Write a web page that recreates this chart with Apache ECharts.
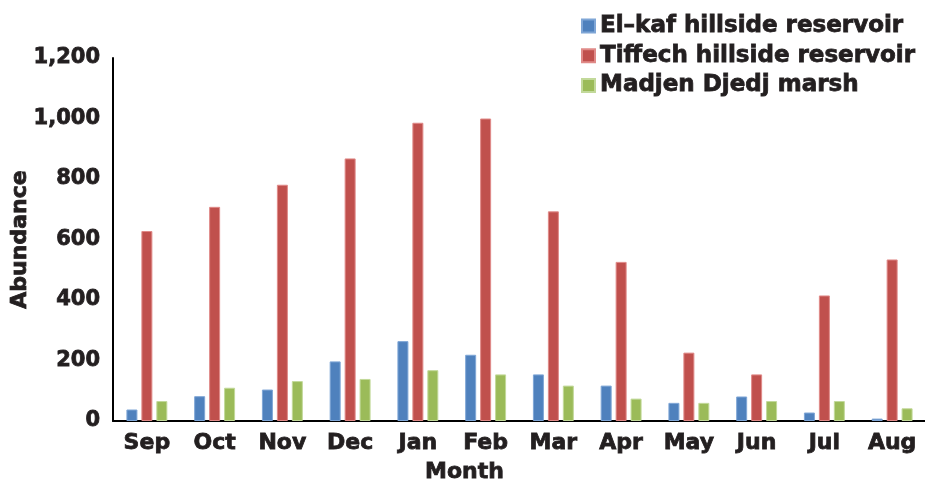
<!DOCTYPE html>
<html>
<head>
<meta charset="utf-8">
<script src="https://cdn.jsdelivr.net/npm/echarts@6/dist/echarts.min.js"></script>
<style>
  html, body { margin: 0; padding: 0; background: #fff; }
  #chart { width: 925px; height: 480px; }
</style>
</head>
<body>
<div id="chart"></div>
<script>
// 月份
var months = ['Sep', 'Oct', 'Nov', 'Dec', 'Jan', 'Feb', 'Mar', 'Apr', 'May', 'Jun', 'Jul', 'Aug'];
var yTicks = [0, 200, 400, 600, 800, 1000, 1200];

var elkaf = [38, 82, 104, 197, 264, 219, 154, 117, 60, 81, 28, 8];
var tiffech = [628, 708, 781, 868, 986, 1000, 693, 526, 226, 154, 415, 534];
var madjen = [66, 110, 132, 139, 168, 154, 117, 74, 60, 66, 66, 42];

var FONT = 'DejaVu Sans';
var INK = '#231f20';
// 加粗文字
var heavy = function (size) {
  return { fontFamily: FONT, fontWeight: 'bold', fontSize: size, color: INK, textBorderColor: INK, textBorderWidth: 0.8 };
};

var chart = echarts.init(document.getElementById('chart'));

var mkSeries = function (name, data, color, border) {
  return {
    name: name,
    type: 'bar',
    data: data,
    barWidth: 11,
    barGap: '36%',
    itemStyle: { color: color, borderColor: border, borderWidth: 1 }
  };
};

var option = {
  backgroundColor: '#fff',
  animation: false,
  color: ['#4F81BD', '#C0504D', '#9BBB59'],
  title: {
    text: 'Month',
    left: 420,
    top: 456,
    textStyle: heavy(22)
  },
  legend: {
    orient: 'vertical',
    left: 576,
    top: 9,
    itemWidth: 13,
    itemHeight: 13,
    itemGap: 6,
    icon: 'rect',
    textStyle: heavy(23),
    data: ['El\u2013kaf hillside reservoir', 'Tiffech hillside reservoir', 'Madjen Djedj marsh']
  },
  grid: { left: 113, right: -1, top: 58, bottom: 59, outerBoundsMode: 'none', containLabel: false },
  xAxis: {
    type: 'category',
    data: months,
    axisLine: { lineStyle: { color: '#000', width: 2 } },
    axisTick: { show: false },
    axisLabel: Object.assign(heavy(22), { margin: 11, interval: 0 })
  },
  yAxis: {
    type: 'value',
    min: yTicks[0],
    max: yTicks[yTicks.length - 1],
    interval: 200,
    name: 'Abundance',
    nameLocation: 'middle',
    nameGap: 82,
    nameMoveOverlap: false,
    nameTextStyle: heavy(22),
    axisLine: { show: true, lineStyle: { color: '#000', width: 2 } },
    axisTick: { show: false },
    splitLine: { show: false },
    axisLabel: Object.assign(heavy(21), {
      margin: 13,
      formatter: function (v) { return v.toLocaleString('en-US'); }
    })
  },
  series: [
    mkSeries('El\u2013kaf hillside reservoir', elkaf, '#4F81BD', '#7fa6d6'),
    mkSeries('Tiffech hillside reservoir', tiffech, '#C0504D', '#e08a88'),
    mkSeries('Madjen Djedj marsh', madjen, '#9BBB59', '#c2d99a')
  ]
};
chart.setOption(option);
</script>
</body>
</html>
